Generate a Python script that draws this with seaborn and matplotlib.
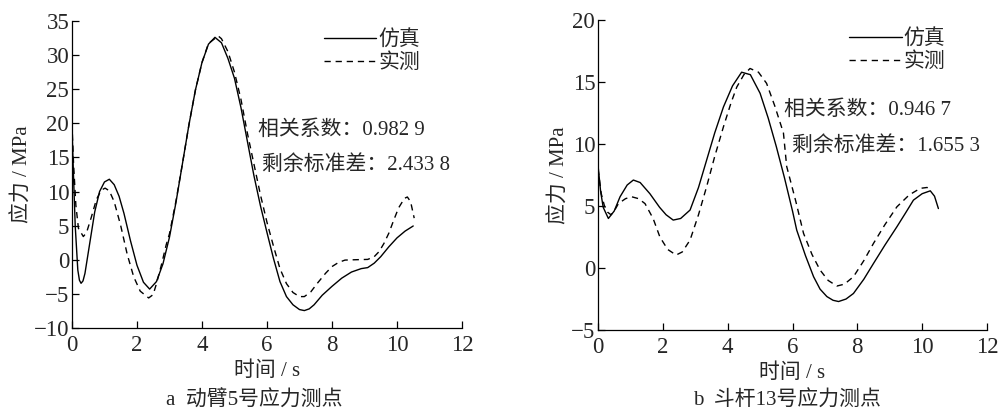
import matplotlib
matplotlib.use("Agg")
import matplotlib.pyplot as plt
import seaborn as sns
import pandas as pd

# ---------------- data ----------------
# Panel a: 动臂5号应力测点
a_sim_t = [0.0, 0.05, 0.1, 0.18, 0.23, 0.28, 0.34, 0.4, 0.55, 0.7, 0.85, 1.0, 1.15, 1.3, 1.45, 1.6,
           1.8, 2.0, 2.2, 2.39, 2.6, 2.8, 3.0, 3.2, 3.4, 3.6, 3.8, 4.0, 4.2, 4.4, 4.6,
           4.8, 5.0, 5.2, 5.4, 5.6, 5.8, 6.0, 6.2, 6.4, 6.6, 6.8, 7.0, 7.15, 7.3, 7.45,
           7.7, 8.0, 8.3, 8.6, 8.9, 9.1, 9.3, 9.5, 9.75, 10.0, 10.25, 10.5]
a_sim_v = [19.5, 12.0, 5.0, -1.5, -3.0, -3.45, -3.1, -2.0, 2.5, 7.0, 10.0, 11.4, 11.8, 11.0, 9.3, 6.8,
           2.8, -0.8, -3.3, -4.3, -3.2, -0.6, 3.3, 8.4, 14.1, 19.8, 24.9, 28.9, 31.6, 32.6, 31.8,
           29.5, 26.6, 22.3, 17.3, 12.3, 7.9, 4.0, 0.2, -3.2, -5.4, -6.6, -7.3, -7.45, -7.2, -6.6,
           -5.2, -3.9, -2.7, -1.8, -1.3, -1.15, -0.5, 0.45, 1.9, 3.2, 4.2, 4.95]
a_meas_t = [0.0, 0.05, 0.12, 0.2, 0.35, 0.45, 0.6, 0.75, 0.9, 1.02, 1.15, 1.3, 1.5, 1.7,
            1.9, 2.1, 2.36, 2.5, 2.6, 2.75, 2.9, 3.0, 3.2, 3.4, 3.6, 3.8, 4.0, 4.2, 4.5,
            4.6, 4.8, 5.0, 5.2, 5.4, 5.6, 5.8, 6.0, 6.2, 6.4, 6.6, 6.8, 7.0, 7.15, 7.35,
            7.55, 7.8, 8.0, 8.2, 8.4, 8.7, 9.1, 9.3, 9.45, 9.6, 9.75, 9.9, 10.05, 10.23,
            10.32, 10.42, 10.53]
a_meas_v = [20.0, 14.0, 8.0, 4.6, 3.4, 4.0, 6.3, 8.8, 10.2, 10.5, 10.1, 8.5, 5.0, 0.8,
            -2.5, -4.6, -5.6, -5.1, -3.5, -0.8, 2.2, 3.8, 8.6, 14.1, 19.8, 24.9, 28.9, 31.7, 32.8,
            32.4, 30.5, 27.5, 23.5, 18.5, 14.0, 9.5, 5.5, 2.0, -1.3, -3.5, -4.8, -5.4, -5.4, -4.7,
            -3.45, -2.0, -1.0, -0.4, -0.05, 0.0, 0.05, 0.45, 1.2, 2.4, 3.9, 5.8, 7.6, 9.0,
            9.2, 8.5, 6.1]

# Panel b: 斗杆13号应力测点
b_sim_t = [0.0, 0.08, 0.16, 0.32, 0.5, 0.68, 0.9, 1.09, 1.3, 1.6, 1.9, 2.1, 2.32, 2.55,
           2.84, 3.1, 3.35, 3.6, 3.87, 4.15, 4.43, 4.7, 5.0, 5.25, 5.5, 5.75, 6.0, 6.13,
           6.4, 6.65, 6.85, 7.06, 7.25, 7.42, 7.65, 7.88, 8.2, 8.5, 8.85, 9.22, 9.5,
           9.73, 10.0, 10.25, 10.38, 10.5]
b_sim_v = [8.3, 6.2, 4.9, 4.0, 4.6, 5.75, 6.7, 7.1, 6.9, 6.0, 4.9, 4.3, 3.87, 4.0,
           4.68, 6.5, 8.7, 10.9, 13.0, 14.7, 15.8, 15.6, 14.1, 12.1, 9.8, 7.3, 4.6, 3.06,
           1.0, -0.7, -1.7, -2.3, -2.6, -2.7, -2.5, -2.05, -0.9, 0.38, 1.85, 3.33, 4.5,
           5.48, 6.0, 6.23, 5.8, 4.8]
b_meas_t = [0.0, 0.1, 0.2, 0.3, 0.4, 0.5, 0.63, 0.85, 1.04, 1.25, 1.45, 1.7, 1.91, 2.15,
            2.41, 2.6, 2.84, 3.1, 3.35, 3.6, 3.87, 4.1, 4.28, 4.5, 4.69, 4.95, 5.2, 5.45,
            5.72, 5.82, 6.1, 6.34, 6.6, 6.85, 7.1, 7.37, 7.6, 7.88, 8.2, 8.5, 8.85, 9.22,
            9.6, 9.94, 10.15, 10.3]
b_meas_v = [8.0, 6.0, 5.0, 4.5, 4.3, 4.6, 5.2, 5.6, 5.75, 5.6, 5.2, 4.0, 2.5, 1.5,
            1.05, 1.3, 2.26, 4.3, 6.56, 9.0, 11.4, 13.3, 14.6, 15.6, 16.1, 15.8, 14.9, 13.1,
            10.9, 8.2, 5.4, 2.8, 1.1, -0.16, -1.0, -1.45, -1.3, -0.7, 0.6, 2.0, 3.5, 4.94,
            5.9, 6.43, 6.5, 6.3]

panel_captions = ["a  动臂5号应力测点", "b  斗杆13号应力测点"]
stats_a = ["相关系数：0.982 9", "剩余标准差：2.433 8"]
stats_b = ["相关系数：0.946 7", "剩余标准差：1.655 3"]
legend_labels = ["仿真", "实测"]
x_label = "时间 / s"
y_label = "应力 / MPa"
xticks = [0, 2, 4, 6, 8, 10, 12]
a_yticks = [-10, -5, 0, 5, 10, 15, 20, 25, 30, 35]
b_yticks = [-5, 0, 5, 10, 15, 20]

# ---------------- style ----------------
sns.set_theme(style="ticks")
plt.rcParams["font.family"] = ["Liberation Serif", "Noto Sans CJK SC"]
plt.rcParams["axes.unicode_minus"] = True
plt.rcParams["xtick.direction"] = "in"
plt.rcParams["ytick.direction"] = "in"
FS = 15
TFS = 16.5

fig = plt.figure(figsize=(9.98, 4.11), dpi=100)
axA = fig.add_axes([0.0721, 0.202, 0.3908, 0.747])
axB = fig.add_axes([0.5992, 0.197, 0.3898, 0.754])


def draw(ax, st, sv, mt, mv, yticks, ylim, stats, stat_pos, caption, cap_x):
    df_s = pd.DataFrame({"t": st, "v": sv})
    df_m = pd.DataFrame({"t": mt, "v": mv})
    sns.lineplot(data=df_s, x="t", y="v", ax=ax, color="black", lw=1.0,
                 label=legend_labels[0], sort=False)
    sns.lineplot(data=df_m, x="t", y="v", ax=ax, color="black", lw=1.0,
                 label=legend_labels[1], sort=False)
    ax.lines[1].set_dashes((4.5, 3.5))
    ax.set_xlim(0, 12)
    ax.set_ylim(*ylim)
    ax.set_xticks(xticks)
    ax.set_yticks(yticks)
    ax.tick_params(labelsize=TFS, length=5, width=0.9, color="black")
    ax.tick_params(axis="x", pad=5)
    ax.tick_params(axis="y", pad=2)
    for s in ["top", "right"]:
        ax.spines[s].set_visible(False)
    for s in ["left", "bottom"]:
        ax.spines[s].set_color("black")
        ax.spines[s].set_linewidth(0.9)
    ax.set_xlabel(x_label, fontsize=FS, labelpad=4)
    ax.set_ylabel(y_label, fontsize=FS, labelpad=1)
    ax.legend(loc="upper right", bbox_to_anchor=(0.925, 1.01), frameon=False,
              fontsize=FS, handlelength=2.5, handletextpad=0.1,
              labelspacing=0.15, borderaxespad=0.2)
    leg = ax.get_legend()
    leg.get_lines()[1].set_dashes((4.5, 3.5))
    for t, (x, y) in zip(stats, stat_pos):
        ax.text(x, y, t, transform=ax.transAxes, fontsize=FS, ha="left", va="center")
    fig.text(cap_x, 0.026, caption, fontsize=FS, ha="center", va="center")


draw(axA, a_sim_t, a_sim_v, a_meas_t, a_meas_v, a_yticks, (-10, 35), stats_a,
     [(0.478, 0.645), (0.488, 0.532)], panel_captions[0], 0.255)
draw(axB, b_sim_t, b_sim_v, b_meas_t, b_meas_v, b_yticks, (-5, 20), stats_b,
     [(0.478, 0.71), (0.498, 0.592)], panel_captions[1], 0.789)

fig.savefig("out.png", dpi=100)
